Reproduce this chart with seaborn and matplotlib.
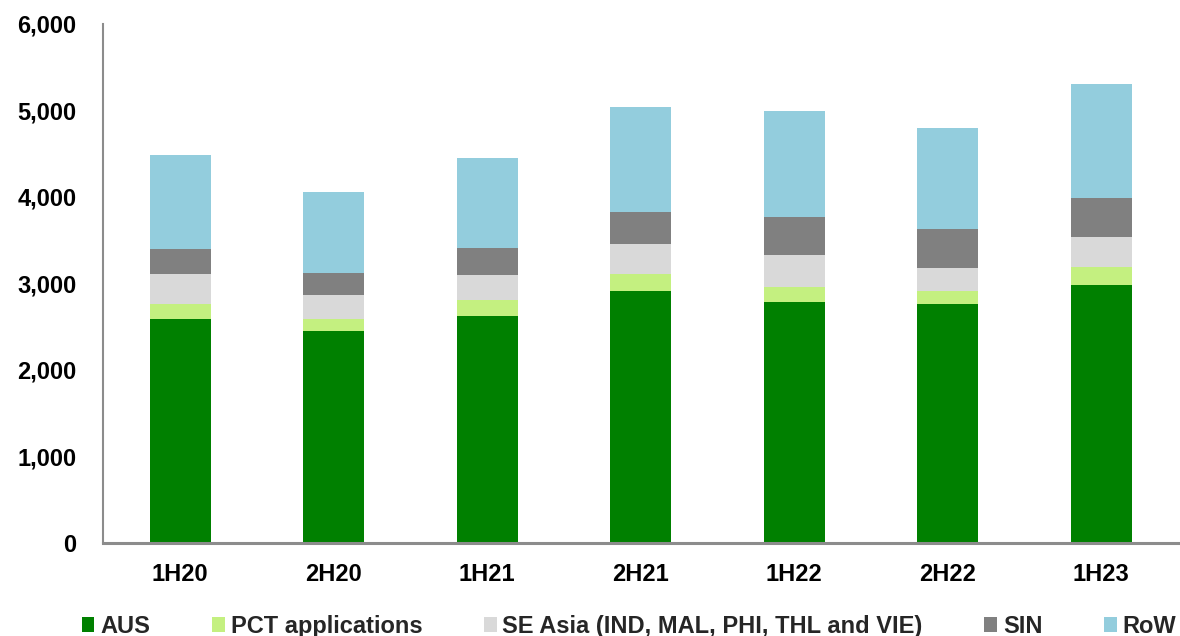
import matplotlib
matplotlib.use("Agg")
import matplotlib.pyplot as plt
from matplotlib.patches import Patch
from matplotlib.ticker import FuncFormatter
import seaborn as sns
import pandas as pd
import numpy as np

periods = ["1H20", "2H20", "1H21", "2H21", "1H22", "2H22", "1H23"]
aus = [2588, 2445, 2622, 2908, 2788, 2761, 2977]
pct = [170, 146, 185, 197, 166, 147, 209]
se_asia = [347, 271, 293, 350, 370, 266, 350]
sin = [289, 258, 309, 374, 447, 458, 455]
row = [1091, 940, 1045, 1207, 1223, 1165, 1315]

series_names = ["AUS", "PCT applications", "SE Asia (IND, MAL, PHI, THL and VIE)", "SIN", "RoW"]
series_vals = [aus, pct, se_asia, sin, row]
colors = ["#008000", "#C4F080", "#D9D9D9", "#808080", "#93CDDD"]

sns.set_theme(style="white")
plt.rcParams['font.family'] = ['Liberation Sans', 'DejaVu Sans']
plt.rcParams['font.weight'] = 'bold'

fig = plt.figure(figsize=(11.8, 6.36), dpi=100)
ax = fig.add_axes([0.0877, 0.1467, 0.9983 - 0.0877, 0.9623 - 0.1467])

cum = np.cumsum(np.array(series_vals), axis=0)
# draw from the top of the stack downward so lower segments overlay
for i in range(len(series_names) - 1, -1, -1):
    df = pd.DataFrame({"period": periods, "value": cum[i]})
    sns.barplot(data=df, x="period", y="value", color=colors[i], width=0.4,
                saturation=1, ax=ax, linewidth=0, order=periods)

ax.set_ylim(0, 6000)
ax.set_xlim(-0.5, 6.5)
ax.set_yticks(range(0, 6001, 1000))
ax.yaxis.set_major_formatter(FuncFormatter(lambda v, p: f"{int(v):,}"))
ax.set_xlabel("")
ax.set_ylabel("")
for s in ["top", "right"]:
    ax.spines[s].set_visible(False)
ax.spines["left"].set_color("#8C8C8C")
ax.spines["left"].set_linewidth(1.5)
ax.spines["bottom"].set_color("#8C8C8C")
ax.spines["bottom"].set_linewidth(2.2)
ax.tick_params(axis="y", length=0, pad=19.5, labelsize=17)
ax.tick_params(axis="x", length=0, pad=14.5, labelsize=17)
for lab in ax.get_xticklabels() + ax.get_yticklabels():
    lab.set_fontweight("bold")
    lab.set_color("black")

handles = [Patch(facecolor=c, edgecolor="none") for c in colors]
leg = fig.legend(handles, series_names, loc="center", ncol=5,
                 bbox_to_anchor=(0.533, 0.015), bbox_transform=fig.transFigure,
                 frameon=False, handlelength=0.55, handleheight=0.55,
                 handletextpad=0.25, columnspacing=2.6,
                 prop={"family": "Liberation Sans", "weight": "bold", "size": 17})

fig.savefig("out.png", dpi=100)
